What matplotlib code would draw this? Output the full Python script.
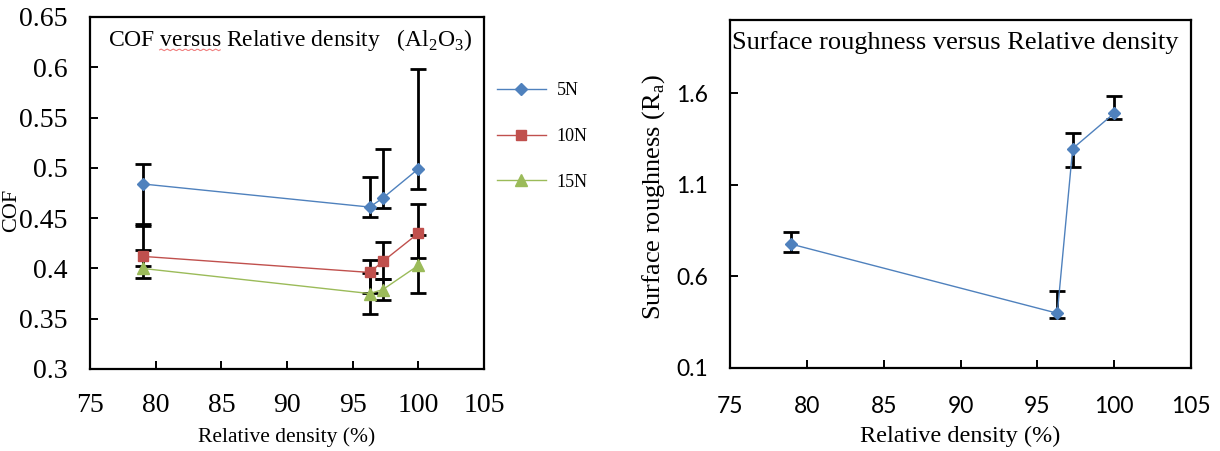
import matplotlib
matplotlib.use("Agg")
import matplotlib.pyplot as plt
import numpy as np

# Relative density (%) of the sintered Al2O3 samples
density = [79.0, 96.3, 97.3, 100.0]

# Coefficient of friction at each load, with lower / upper error extents
cof_5n = [0.484, 0.461, 0.470, 0.499]
cof_5n_lo = [0.040, 0.010, 0.010, 0.020]
cof_5n_hi = [0.020, 0.030, 0.049, 0.099]

cof_10n = [0.412, 0.396, 0.407, 0.435]
cof_10n_lo = [0.010, 0.020, 0.018, 0.025]
cof_10n_hi = [0.030, 0.012, 0.019, 0.029]

cof_15n = [0.400, 0.375, 0.379, 0.403]
cof_15n_lo = [0.010, 0.020, 0.010, 0.027]
cof_15n_hi = [0.018, 0.020, 0.010, 0.030]

load_labels = ["5N", "10N", "15N"]

# Surface roughness Ra with lower / upper error extents
ra = [0.776, 0.399, 1.298, 1.491]
ra_lo = [0.044, 0.024, 0.100, 0.030]
ra_hi = [0.068, 0.122, 0.086, 0.096]

x_ticks = [75, 80, 85, 90, 95, 100, 105]
cof_ticks = [0.3, 0.35, 0.4, 0.45, 0.5, 0.55, 0.6, 0.65]
cof_ticklabels = ["0.3", "0.35", "0.4", "0.45", "0.5", "0.55", "0.6", "0.65"]
ra_ticks = [0.1, 0.6, 1.1, 1.6]

SERIF = "Liberation Serif"
SANS = "Lato"
BLUE = "#4F81BD"
RED = "#C0504D"
GREEN = "#9BBB59"

fig = plt.figure(figsize=(12.2, 4.51), dpi=100)
W, H = 1220, 451


def axes_at(left, top, right, bottom):
    return fig.add_axes([left / W, 1 - bottom / H, (right - left) / W, (bottom - top) / H])


def style_axes(ax, tick_font, tick_size, xpad, ypad):
    for s in ax.spines.values():
        s.set_linewidth(1.6)
        s.set_color("black")
    ax.tick_params(direction="in", length=6, width=1.4, top=False, right=False,
                   labelsize=tick_size)
    ax.tick_params(axis="x", pad=xpad)
    ax.tick_params(axis="y", pad=ypad)
    for lab in ax.get_xticklabels() + ax.get_yticklabels():
        lab.set_fontfamily(tick_font)


# ---------- left panel: COF ----------
ax1 = axes_at(90, 17, 484, 369)
series = [
    (cof_5n, cof_5n_lo, cof_5n_hi, BLUE, "D", 6.5),
    (cof_10n, cof_10n_lo, cof_10n_hi, RED, "s", 7.5),
    (cof_15n, cof_15n_lo, cof_15n_hi, GREEN, "^", 8),
]
for vals, lo, hi, col, mk, ms in series:
    ax1.errorbar(density, vals, yerr=[lo, hi], fmt="none", ecolor="black",
                 elinewidth=2.0, capsize=5.5, capthick=2.0, zorder=2)
handles = []
for (vals, lo, hi, col, mk, ms), lab in zip(series, load_labels):
    h, = ax1.plot(density, vals, color=col, lw=1.0, marker=mk, ms=ms,
                  mec=col, mfc=col, zorder=3, label=lab)
    handles.append(h)

ax1.set_xlim(75, 105)
ax1.set_ylim(0.3, 0.65)
ax1.set_xticks(x_ticks)
ax1.set_yticks(cof_ticks)
ax1.set_yticklabels(cof_ticklabels)
style_axes(ax1, SERIF, 20, 17.5, 16)
ax1.set_xlabel("Relative density (%)", fontfamily=SERIF, fontsize=15.5)
ax1.xaxis.set_label_coords(0.5, -0.165)
ax1.set_ylabel("COF", fontfamily=SERIF, fontsize=16)
ax1.yaxis.set_label_coords(-0.174, 0.45)

TITLE1 = r"COF versus Relative density   (Al$_\mathregular{2}$O$_\mathregular{3}$)"
t1 = ax1.text(0.045, 0.935, TITLE1, transform=ax1.transAxes, fontfamily=SERIF,
              fontsize=17, va="center", ha="left")

# spell-check style underline beneath "versus"
fig.canvas.draw()
r = fig.canvas.get_renderer()
probe_a = ax1.text(0, 0, "COF ", fontfamily=SERIF, fontsize=17)
probe_b = ax1.text(0, 0, "COF versus", fontfamily=SERIF, fontsize=17)
wa = probe_a.get_window_extent(r).width
wb = probe_b.get_window_extent(r).width
probe_a.remove()
probe_b.remove()
bb = t1.get_window_extent(r)
inv = fig.transFigure.inverted()
xs = np.linspace(bb.x0 + wa, bb.x0 + wb, 40)
ys = bb.y0 + 3.0 + 0.8 * np.sin(np.linspace(0, 20 * np.pi, 40))
pts = inv.transform(np.column_stack([xs, ys]))
fig.add_artist(plt.Line2D(pts[:, 0], pts[:, 1], color="#F08080", lw=0.8,
                          transform=fig.transFigure))

leg = fig.legend(handles=handles, loc="upper left",
                 bbox_to_anchor=(497 / W, 1 - 82 / H), frameon=False,
                 prop={"family": SERIF, "size": 13}, handlelength=2.7,
                 handletextpad=0.6, labelspacing=1.6, borderpad=0,
                 borderaxespad=0)

# ---------- right panel: surface roughness ----------
ax2 = axes_at(730, 20, 1191, 368)
ax2.errorbar(density, ra, yerr=[ra_lo, ra_hi], fmt="none", ecolor="black",
             elinewidth=2.0, capsize=5.5, capthick=2.0, zorder=2)
ax2.plot(density, ra, color=BLUE, lw=1.0, marker="D", ms=6.5, mec=BLUE,
         mfc=BLUE, zorder=3)
ax2.set_xlim(75, 105)
ax2.set_ylim(0.1, 2.0)
ax2.set_xticks(x_ticks)
ax2.set_yticks(ra_ticks)
style_axes(ax2, SANS, 16.5, 20, 16)
ax2.set_xlabel("Relative density (%)", fontfamily=SERIF, fontsize=17.5)
ax2.xaxis.set_label_coords(0.5, -0.165)
ax2.set_ylabel(r"Surface roughness (R$_\mathregular{a}$)", fontfamily=SERIF, fontsize=19)
ax2.yaxis.set_label_coords(-0.137, 0.49)
ax2.text(0.005, 0.935, "Surface roughness versus Relative density",
         transform=ax2.transAxes, fontfamily=SERIF, fontsize=19,
         va="center", ha="left")

fig.savefig("out.png", dpi=100)
